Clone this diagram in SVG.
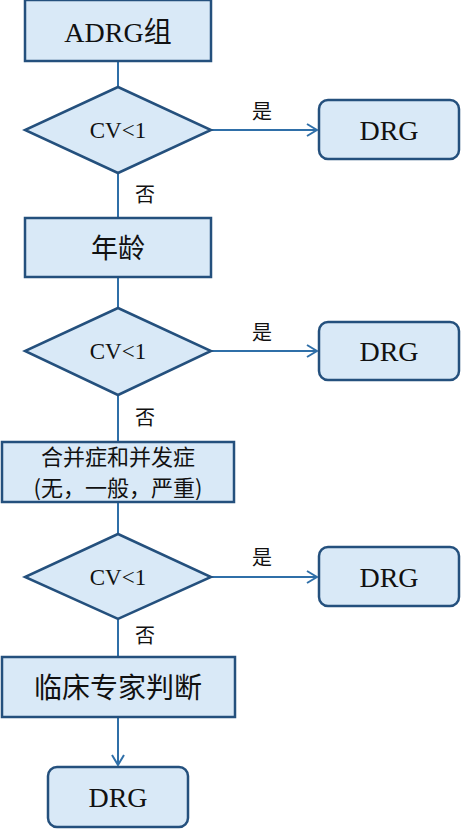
<svg xmlns="http://www.w3.org/2000/svg" width="461" height="829" viewBox="0 0 461 829">
<defs>
<style>
.n{fill:#d9e9f7;stroke:#24507d;stroke-width:2.5}
.c{stroke:#2f6fa8;stroke-width:2;fill:none}
.s{fill:#111;text-anchor:middle}
.z{font-family:'Noto Sans CJK SC',sans-serif;fill:#111;text-anchor:middle}
.l{font-family:'Noto Sans CJK SC',sans-serif;fill:#111;font-size:20px;text-anchor:middle}
</style>
<marker id="a" markerWidth="12" markerHeight="14" refX="11" refY="7" orient="auto" markerUnits="userSpaceOnUse">
<path d="M1,1 L11,7 L1,13" fill="none" stroke="#2f6fa8" stroke-width="2"/>
</marker>
</defs>
<rect width="461" height="829" fill="#fff"/>
<g id="connectors">
<line class="c" x1="118" y1="61" x2="118" y2="87"/>
<line class="c" x1="211" y1="130" x2="317" y2="130" marker-end="url(#a)"/>
<line class="c" x1="118" y1="173" x2="118" y2="218"/>
<line class="c" x1="118" y1="277" x2="118" y2="308"/>
<line class="c" x1="211" y1="351" x2="317" y2="351" marker-end="url(#a)"/>
<line class="c" x1="118" y1="395" x2="118" y2="442"/>
<line class="c" x1="118" y1="502" x2="118" y2="534"/>
<line class="c" x1="211" y1="577" x2="317" y2="577" marker-end="url(#a)"/>
<line class="c" x1="118" y1="619" x2="118" y2="657"/>
<line class="c" x1="118" y1="717" x2="118" y2="765" marker-end="url(#a)"/>
<text class="l" x="262" y="119">是</text>
<text class="l" x="145" y="202">否</text>
<text class="l" x="262" y="340">是</text>
<text class="l" x="145" y="425">否</text>
<text class="l" x="262" y="565">是</text>
<text class="l" x="145" y="643">否</text>
</g>
<g id="n1"><rect class="n" x="25" y="0" width="186" height="61"/><text class="s" font-family="Liberation Serif, Noto Sans CJK SC, serif" x="118" y="42" font-size="28">ADRG组</text></g>
<g id="d1"><polygon class="n" points="118,87 211,130 118,173 25,130"/><text class="s" font-family="Liberation Serif, serif" x="118" y="138" font-size="23">CV&lt;1</text></g>
<g id="r1"><rect class="n" x="319" y="100" width="140" height="59" rx="9"/><text class="s" font-family="Liberation Serif, serif" x="389" y="140" font-size="28">DRG</text></g>
<g id="n2"><rect class="n" x="25" y="218" width="186" height="59"/><text class="z" x="118" y="258" font-size="27">年龄</text></g>
<g id="d2"><polygon class="n" points="118,308 211,351 118,395 25,351"/><text class="s" font-family="Liberation Serif, serif" x="118" y="359" font-size="23">CV&lt;1</text></g>
<g id="r2"><rect class="n" x="319" y="322" width="140" height="58" rx="9"/><text class="s" font-family="Liberation Serif, serif" x="389" y="361" font-size="28">DRG</text></g>
<g id="n3"><rect class="n" x="2" y="442" width="232" height="60"/><text class="z" x="118" y="465" font-size="22">合并症和并发症</text><text class="z" x="118" y="496" font-size="22">(无，一般，严重)</text></g>
<g id="d3"><polygon class="n" points="118,534 211,577 118,619 25,577"/><text class="s" font-family="Liberation Serif, serif" x="118" y="585" font-size="23">CV&lt;1</text></g>
<g id="r3"><rect class="n" x="319" y="547" width="140" height="59" rx="9"/><text class="s" font-family="Liberation Serif, serif" x="389" y="587" font-size="28">DRG</text></g>
<g id="n4"><rect class="n" x="2" y="657" width="233" height="60"/><text class="z" x="118" y="698" font-size="28">临床专家判断</text></g>
<g id="r4"><rect class="n" x="48" y="767" width="140" height="60" rx="9"/><text class="s" font-family="Liberation Serif, serif" x="118" y="807" font-size="28">DRG</text></g>
</svg>
